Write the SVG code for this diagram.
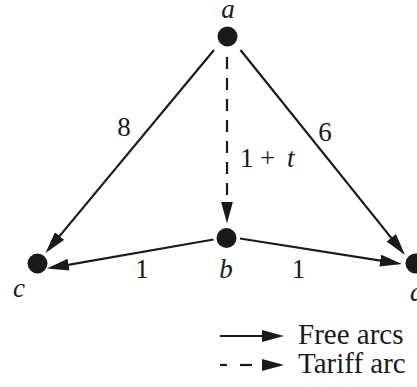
<svg xmlns="http://www.w3.org/2000/svg" width="417" height="387" viewBox="0 0 417 387">
<style>
.node{fill:#1a1a1a}
.edge{stroke:#1a1a1a;stroke-width:2.2;fill:none}
.dash{stroke-dasharray:12 9}
.ah{fill:#1a1a1a}
.m{font-family:"Liberation Serif","Times New Roman","DejaVu Serif",serif;font-size:27px;fill:#1a1a1a}
.i{font-style:italic}
.lg{font-family:"Liberation Serif","Times New Roman","DejaVu Serif",serif;font-size:29px;fill:#1a1a1a}
</style>
<defs>
<marker id="arr" markerUnits="userSpaceOnUse" markerWidth="24" markerHeight="14" refX="18" refY="6" orient="auto" viewBox="0 0 24 14">
<path d="M0,0 L22,6 L0,12 Z" class="ah"/>
</marker>
</defs>
<g id="connectors">
<line class="edge" x1="214" y1="50" x2="48.1" y2="249.9" marker-end="url(#arr)"/>
<line class="edge" x1="240.5" y1="50" x2="402.5" y2="251.9" marker-end="url(#arr)"/>
<line class="edge dash" x1="227" y1="57" x2="227" y2="219.5" marker-end="url(#arr)"/>
<line class="edge" x1="213.5" y1="239.5" x2="50.9" y2="267.8" marker-end="url(#arr)"/>
<line class="edge" x1="240" y1="238.5" x2="398" y2="263.4" marker-end="url(#arr)"/>
</g>
<g id="edge-labels">
<text class="m" x="124" y="136" text-anchor="middle">8</text>
<text class="m" x="325" y="141" text-anchor="middle">6</text>
<text class="m" x="240" y="167">1</text>
<text class="m" x="260" y="167">+</text>
<text class="m i" x="287" y="167">t</text>
<text class="m" x="142" y="278" text-anchor="middle">1</text>
<text class="m" x="298.5" y="278" text-anchor="middle">1</text>
</g>
<g id="node-a">
<circle class="node" cx="227.5" cy="36.5" r="10"/>
<text class="m i" x="228" y="18" text-anchor="middle">a</text>
</g>
<g id="node-b">
<circle class="node" cx="226.5" cy="238" r="10"/>
<text class="m i" x="226" y="278" text-anchor="middle">b</text>
</g>
<g id="node-c">
<circle class="node" cx="37.5" cy="263.5" r="10"/>
<text class="m i" x="19" y="297" text-anchor="middle">c</text>
</g>
<g id="node-d">
<circle class="node" cx="415.5" cy="263.5" r="10"/>
<text class="m i" x="410" y="301">d</text>
</g>
<g id="legend">
<line class="edge" x1="220" y1="336" x2="280" y2="336" marker-end="url(#arr)"/>
<text class="lg" x="298" y="344">Free arcs</text>
<line class="edge" x1="220" y1="365" x2="227" y2="365"/>
<line class="edge" x1="240" y1="365" x2="252" y2="365"/>
<line class="edge" x1="262" y1="365" x2="280" y2="365" marker-end="url(#arr)"/>
<text class="lg" x="298" y="373">Tariff arc</text>
</g>
</svg>
